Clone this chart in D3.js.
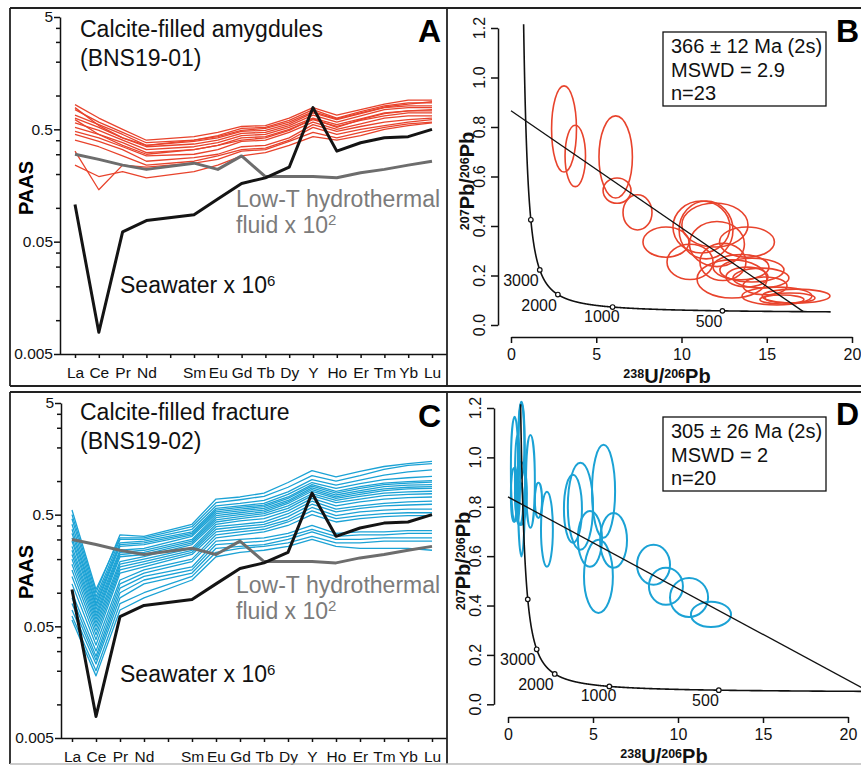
<!DOCTYPE html>
<html><head><meta charset="utf-8">
<script src="https://cdn.jsdelivr.net/npm/d3@7"></script>
<style>body{margin:0;background:#fff}svg{display:block}text{font-family:"Liberation Sans",Arial,Helvetica,sans-serif}</style>
</head><body>
<svg id="fig" width="861" height="766"></svg>
<script>
// ---------------- data ----------------
const ree = ["La","Ce","Pr","Nd","Sm","Eu","Gd","Tb","Dy","Y","Ho","Er","Tm","Yb","Lu"];
const axisSlots = ["La","Ce","Pr","Nd","Pm","Sm","Eu","Gd","Tb","Dy","Y","Ho","Er","Tm","Yb","Lu"];
const paasTicks = [5,0.5,0.05,0.005];
const paasTickLabels = ["5","0.5","0.05","0.005"];
const paasMinor = [4,3,2,1,0.4,0.3,0.2,0.1,0.04,0.03,0.02,0.01];

const seawater  = [0.107,0.0078,0.061,0.077,0.087,0.12,0.165,0.185,0.23,0.78,0.32,0.38,0.42,0.43,0.50];
const lowTFluid = [0.30,0.27,0.24,0.22,0.25,0.22,0.29,0.19,0.19,0.19,0.185,0.205,0.22,0.24,0.26];

const amygdules = [
 [0.83,0.63,0.50,0.40,0.43,0.47,0.53,0.54,0.63,0.78,0.67,0.75,0.84,0.91,0.91],
 [0.75,0.58,0.47,0.38,0.40,0.44,0.51,0.52,0.60,0.75,0.63,0.72,0.81,0.86,0.86],
 [0.67,0.55,0.45,0.36,0.39,0.42,0.48,0.49,0.56,0.70,0.61,0.69,0.78,0.81,0.81],
 [0.63,0.52,0.42,0.35,0.37,0.40,0.46,0.47,0.54,0.67,0.58,0.66,0.75,0.78,0.78],
 [0.57,0.49,0.40,0.33,0.35,0.38,0.44,0.45,0.52,0.63,0.55,0.62,0.70,0.73,0.73],
 [0.52,0.45,0.38,0.31,0.33,0.36,0.42,0.43,0.50,0.61,0.53,0.60,0.66,0.70,0.70],
 [0.48,0.42,0.35,0.29,0.30,0.33,0.39,0.40,0.47,0.58,0.50,0.56,0.63,0.66,0.66],
 [0.45,0.39,0.33,0.26,0.28,0.30,0.35,0.36,0.42,0.55,0.48,0.53,0.58,0.61,0.63],
 [0.40,0.35,0.29,0.24,0.26,0.29,0.33,0.34,0.40,0.52,0.45,0.50,0.54,0.58,0.61],
 [0.32,0.145,0.24,0.23,0.25,0.27,0.32,0.33,0.39,0.47,0.42,0.47,0.52,0.56,0.58],
 [0.24,0.19,0.21,0.185,0.21,0.24,0.29,0.31,0.36,0.43,0.40,0.44,0.50,0.54,0.57],
 [0.78,0.54,0.42,0.36,0.40,0.43,0.49,0.51,0.58,0.72,0.62,0.70,0.79,0.84,0.88],
 [0.61,0.45,0.36,0.30,0.33,0.36,0.40,0.42,0.49,0.62,0.52,0.61,0.69,0.73,0.75]
];

const fracture = [
 [0.50,0.100,0.33,0.32,0.41,0.69,0.72,0.78,0.97,1.24,1.09,1.22,1.35,1.43,1.50],
 [0.55,0.107,0.31,0.31,0.39,0.64,0.68,0.73,0.88,1.12,1.00,1.12,1.27,1.38,1.43],
 [0.46,0.092,0.30,0.30,0.37,0.60,0.63,0.67,0.80,1.03,0.92,1.02,1.13,1.21,1.26],
 [0.41,0.086,0.28,0.29,0.35,0.57,0.60,0.63,0.76,0.97,0.86,0.95,1.03,1.07,1.10],
 [0.37,0.080,0.27,0.28,0.34,0.55,0.58,0.61,0.72,0.93,0.81,0.89,0.96,0.99,1.01],
 [0.34,0.076,0.26,0.27,0.33,0.53,0.56,0.59,0.70,0.90,0.78,0.86,0.93,0.96,0.98],
 [0.31,0.071,0.24,0.25,0.32,0.51,0.54,0.57,0.67,0.87,0.75,0.82,0.89,0.92,0.93],
 [0.29,0.066,0.23,0.24,0.30,0.49,0.52,0.55,0.65,0.84,0.72,0.79,0.85,0.88,0.89],
 [0.26,0.062,0.22,0.23,0.29,0.47,0.50,0.53,0.63,0.81,0.70,0.76,0.82,0.85,0.86],
 [0.24,0.058,0.21,0.22,0.28,0.45,0.48,0.51,0.60,0.77,0.67,0.73,0.78,0.80,0.81],
 [0.22,0.054,0.19,0.21,0.27,0.43,0.46,0.49,0.57,0.74,0.64,0.69,0.74,0.76,0.77],
 [0.20,0.050,0.18,0.20,0.25,0.41,0.44,0.46,0.54,0.70,0.60,0.65,0.69,0.71,0.72],
 [0.18,0.046,0.17,0.19,0.24,0.39,0.41,0.43,0.51,0.66,0.56,0.60,0.63,0.65,0.66],
 [0.16,0.042,0.16,0.18,0.23,0.37,0.39,0.41,0.48,0.62,0.53,0.57,0.60,0.61,0.62],
 [0.14,0.038,0.15,0.17,0.22,0.35,0.37,0.39,0.45,0.58,0.49,0.53,0.55,0.56,0.56],
 [0.12,0.034,0.13,0.16,0.20,0.33,0.35,0.37,0.43,0.54,0.46,0.49,0.51,0.52,0.52],
 [0.10,0.030,0.12,0.15,0.19,0.31,0.33,0.35,0.40,0.50,0.43,0.46,0.48,0.49,0.49],
 [0.090,0.027,0.11,0.14,0.17,0.29,0.30,0.31,0.34,0.40,0.34,0.35,0.35,0.36,0.36],
 [0.080,0.025,0.10,0.13,0.16,0.27,0.28,0.29,0.32,0.37,0.32,0.33,0.33,0.34,0.34],
 [0.070,0.023,0.09,0.12,0.15,0.25,0.26,0.27,0.30,0.35,0.30,0.30,0.31,0.31,0.31],
 [0.062,0.020,0.08,0.10,0.14,0.23,0.25,0.26,0.28,0.32,0.28,0.28,0.29,0.29,0.29],
 [0.057,0.018,0.07,0.09,0.13,0.21,0.23,0.24,0.26,0.30,0.26,0.25,0.25,0.25,0.24]
];

const twXTicks = [0,5,10,15,20];
const twYTicks = [0,0.2,0.4,0.6,0.8,1.0,1.2];
const concordiaAges   = [4000,3000,2000,1000,500];
const concordiaLabels = ["","3000","2000","1000","500"];

// [238U/206Pb, 207Pb/206Pb, half-axis x, half-axis y]
const ellipsesB = [
 [3.11,0.792,0.73,0.174],[3.77,0.683,0.60,0.124],[6.14,0.679,0.98,0.166],[6.22,0.543,0.82,0.051],
 [7.42,0.455,0.85,0.071],[9.09,0.335,1.35,0.061],[11.17,0.396,1.67,0.105],[11.96,0.404,1.94,0.089],
 [12.08,0.327,1.61,0.091],[13.84,0.335,1.61,0.061],[10.50,0.255,1.35,0.071],[12.43,0.255,1.35,0.075],
 [12.96,0.186,2.05,0.077],[13.49,0.234,1.64,0.051],[13.84,0.194,1.23,0.040],[14.66,0.190,1.64,0.040],
 [14.90,0.158,1.29,0.036],[15.60,0.117,2.05,0.036],[16.72,0.117,1.99,0.028],[16.36,0.109,1.47,0.020],
 [15.89,0.103,1.29,0.018],[11.44,0.384,1.58,0.117],[14.13,0.222,1.88,0.048]
];
const ellipsesD = [
 [0.39,0.952,0.22,0.213],[0.79,0.911,0.21,0.312],[0.35,0.848,0.18,0.109],[0.76,0.854,0.35,0.128],
 [1.32,0.903,0.26,0.188],[1.79,0.826,0.21,0.071],[2.29,0.709,0.35,0.152],[3.82,0.792,0.53,0.138],
 [4.26,0.802,0.74,0.176],[5.62,0.863,0.68,0.188],[4.82,0.670,0.71,0.113],[6.21,0.664,0.79,0.111],
 [5.32,0.518,0.85,0.148],[8.56,0.565,0.97,0.081],[9.29,0.478,1.00,0.075],[10.65,0.433,1.12,0.079],
 [11.94,0.364,1.18,0.051],[0.56,0.915,0.15,0.176],[0.68,0.814,0.21,0.087],[0.79,1.071,0.18,0.154]
];
const discordiaB = [[0,0.866],[17.15,0.054]];
const discordiaD = [[0,0.84],[21.2,0.053]];

// decay constants (per Ma) for the Tera-Wasserburg concordia
const L238 = 1.55125e-4, L235 = 9.8485e-4, U85 = 137.88;
function tw(t){ const e8 = Math.exp(L238*t)-1, e5 = Math.exp(L235*t)-1; return [1/e8, e5/e8/U85]; }

// ---------------- drawing ----------------
const svg = d3.select("#fig");
svg.append("rect").attr("width",861).attr("height",766).attr("fill","#fff");
const RED = "#e8432c", BLUE = "#1ba2d5";

function rich(t, parts, supSize, raise){
  let up = false;
  parts.forEach(([s, sup]) => {
    const ts = t.append("tspan").text(s);
    if (sup) ts.attr("font-size", supSize);
    if (sup && !up){ ts.attr("dy", -raise); up = true; }
    else if (!sup && up){ ts.attr("dy", raise); up = false; }
  });
}
function styleAxis(a, fs){
  a.attr("font-family", null).attr("font-size", null);
  a.selectAll("line,path").attr("stroke","#111").attr("stroke-width",1.5);
  a.selectAll("text").attr("font-size", fs).attr("fill","#111");
}

function drawREE(o){
  const g = svg.append("g");
  const x = d3.scalePoint().domain(axisSlots).range([o.xL, o.xR]);
  const y = d3.scaleLog().domain([0.005,5]).range([o.yB, o.yT]);
  const line = d3.line().x((d,i)=>x(ree[i])).y(d=>y(d));
  g.append("g").selectAll("path").data(o.samples).join("path")
    .attr("d", line).attr("fill","none").attr("stroke", o.color)
    .attr("stroke-width", 1.3).attr("stroke-linejoin","round");
  g.append("path").attr("d", line(lowTFluid)).attr("fill","none")
    .attr("stroke","#6d6d6d").attr("stroke-width",3).attr("stroke-linejoin","round");
  g.append("path").attr("d", line(seawater)).attr("fill","none")
    .attr("stroke","#141414").attr("stroke-width",3).attr("stroke-linejoin","round");

  const ya = g.append("g").attr("transform",`translate(${o.axX},0)`)
    .call(d3.axisLeft(y).tickValues(paasTicks)
      .tickFormat(d => paasTickLabels[paasTicks.indexOf(d)])
      .tickSize(6).tickPadding(1).tickSizeOuter(0));
  styleAxis(ya, 15.5);
  const ym = g.append("g").attr("transform",`translate(${o.axX},0)`)
    .call(d3.axisLeft(y).tickValues(paasMinor).tickFormat("").tickSize(4));
  ym.select(".domain").remove();
  styleAxis(ym, 10);

  const xa = g.append("g").attr("transform",`translate(0,${o.yB})`)
    .call(d3.axisBottom(x).tickSize(4).tickPadding(9).tickFormat(d => d === "Pm" ? "" : d));
  xa.select(".domain").remove();
  styleAxis(xa, 15.5);
  g.append("line").attr("x1",o.axX).attr("x2",447).attr("y1",o.yB+0.5).attr("y2",o.yB+0.5)
    .attr("stroke","#111").attr("stroke-width",1.5);

  g.append("text").attr("transform",`translate(33,${o.paasY}) rotate(-90)`)
    .attr("text-anchor","middle").attr("font-weight","bold").attr("font-size",20).text("PAAS");
  o.title.forEach((s,i)=> g.append("text").attr("x",80).attr("y",o.titleY[i])
    .attr("font-size",23).attr("fill","#111").text(s));
  g.append("text").attr("x",441).attr("y",o.letterY).attr("text-anchor","end")
    .attr("font-size",32).attr("font-weight","bold").text(o.letter);
  g.append("text").attr("x",236).attr("y",o.lowTY[0]).attr("font-size",23).attr("fill","#7b7b7b")
    .text("Low-T hydrothermal");
  rich(g.append("text").attr("x",236).attr("y",o.lowTY[1]).attr("font-size",23).attr("fill","#7b7b7b"),
    [["fluid x 10",0],["2",1]], 15, 8);
  rich(g.append("text").attr("x",120).attr("y",o.seaY).attr("font-size",23).attr("fill","#111"),
    [["Seawater x 10",0],["6",1]], 15, 7);
}

function drawTW(o){
  const g = svg.append("g");
  const x = d3.scaleLinear().domain([0,20]).range([o.x0, o.x20]);
  const y = d3.scaleLinear().domain([0,1.2]).range([o.y0, o.y12]);

  g.append("g").selectAll("ellipse").data(o.ell).join("ellipse")
    .attr("cx", d=>x(d[0])).attr("cy", d=>y(d[1]))
    .attr("rx", d=>x(d[2])-x(0)).attr("ry", d=>y(0)-y(d[3]))
    .attr("fill","none").attr("stroke", o.color).attr("stroke-width", o.sw);

  const ages = d3.range(5510, o.minAge, -5);
  g.append("path").attr("d", d3.line().x(d=>x(d[0])).y(d=>y(d[1]))(ages.map(tw)))
    .attr("fill","none").attr("stroke","#111").attr("stroke-width",1.6);

  g.append("path").attr("d", d3.line().x(d=>x(d[0])).y(d=>y(d[1]))(o.disc))
    .attr("fill","none").attr("stroke","#111").attr("stroke-width",1.3);

  const pts = concordiaAges.map(tw);
  g.append("g").selectAll("circle").data(pts).join("circle")
    .attr("cx", d=>x(d[0])).attr("cy", d=>y(d[1])).attr("r",2.3)
    .attr("fill","#fff").attr("stroke","#111").attr("stroke-width",1.2);
  const lblOff = [[0,0],[-1,16],[-1,16],[7,15],[0,16]];
  g.append("g").selectAll("text").data(pts).join("text")
    .attr("x",(d,i)=>x(d[0])+lblOff[i][0]).attr("y",(d,i)=>y(d[1])+lblOff[i][1])
    .attr("text-anchor","end").attr("font-size",16).attr("fill","#111")
    .text((d,i)=>concordiaLabels[i]);

  const ya = g.append("g").attr("transform",`translate(${o.yAxX},0)`)
    .call(d3.axisLeft(y).tickValues(twYTicks).tickFormat("").tickSize(7).tickSizeOuter(0));
  styleAxis(ya, 16);
  g.append("g").selectAll("text").data(twYTicks).join("text")
    .attr("transform", d=>`translate(${o.yAxX-13},${y(d)}) rotate(-90)`)
    .attr("text-anchor","middle").attr("font-size",16).attr("fill","#111")
    .text(d3.format(".1f"));

  const xa = g.append("g").attr("transform",`translate(0,${o.xAxY})`)
    .call(d3.axisBottom(x).tickValues(twXTicks).tickSize(6).tickPadding(6).tickSizeOuter(0));
  styleAxis(xa, 16);

  rich(g.append("text").attr("x",o.xLab[0]).attr("y",o.xLab[1]).attr("text-anchor","middle")
    .attr("font-size",20).attr("font-weight","bold").attr("fill","#111"),
    [["238",1],["U/",0],["206",1],["Pb",0]], 12.5, 5);
  rich(g.append("text").attr("transform",`translate(${o.yLab[0]},${o.yLab[1]}) rotate(-90)`)
    .attr("text-anchor","middle").attr("font-size",20).attr("font-weight","bold").attr("fill","#111"),
    [["207",1],["Pb/",0],["206",1],["Pb",0]], 12.5, 5);

  g.append("rect").attr("x",663).attr("y",o.boxY).attr("width",163).attr("height",74)
    .attr("fill","#fff").attr("stroke","#111").attr("stroke-width",1.3);
  o.box.forEach((s,i)=> g.append("text").attr("x",671).attr("y",o.boxY+21+i*23.5)
    .attr("font-size",20).attr("fill","#111").text(s));
  g.append("text").attr("x",859).attr("y",o.letterY).attr("text-anchor","end").attr("font-size",32)
    .attr("font-weight","bold").text(o.letter);
}

drawREE({xL:75,xR:432,yT:17,yB:354,axX:60,samples:amygdules,color:RED,
  title:["Calcite-filled amygdules","(BNS19-01)"],titleY:[37,66],letter:"A",letterY:42,
  paasY:188,lowTY:[207,233],seaY:293});
drawREE({xL:72,xR:432,yT:403,yB:738,axX:61,samples:fracture,color:BLUE,
  title:["Calcite-filled fracture","(BNS19-02)"],titleY:[420,449],letter:"C",letterY:427,
  paasY:572,lowTY:[593,619],seaY:682});

drawTW({x0:511,x20:852,y0:325,y12:28,yAxX:498,xAxY:337,ell:ellipsesB,color:RED,sw:1.6,
  minAge:330,disc:discordiaB,xLab:[667,383],yLab:[474,181],boxY:32,
  box:["366 ± 12 Ma (2s)","MSWD = 2.9","n=23"],letter:"B",letterY:42});
drawTW({x0:508,x20:848,y0:704.3,y12:408,yAxX:494,xAxY:717,ell:ellipsesD,color:BLUE,sw:2,
  minAge:270,disc:discordiaD,xLab:[664,763],yLab:[470,561],boxY:417,
  box:["305 ± 26 Ma (2s)","MSWD = 2","n=20"],letter:"D",letterY:425});

// panel frames
const fr = svg.append("g").attr("stroke","#222").attr("stroke-width",1.8);
[[10,8,861,8],[10,386,861,386],[10,392,861,392],[10,8,10,386],[10,392,10,764],
 [447,8,447,386],[447,392,447,764]].forEach(l =>
  fr.append("line").attr("x1",l[0]).attr("y1",l[1]).attr("x2",l[2]).attr("y2",l[3]));
svg.append("line").attr("x1",10).attr("x2",861).attr("y1",764).attr("y2",764)
  .attr("stroke","#bbb").attr("stroke-width",1.5);
</script>
</body></html>
